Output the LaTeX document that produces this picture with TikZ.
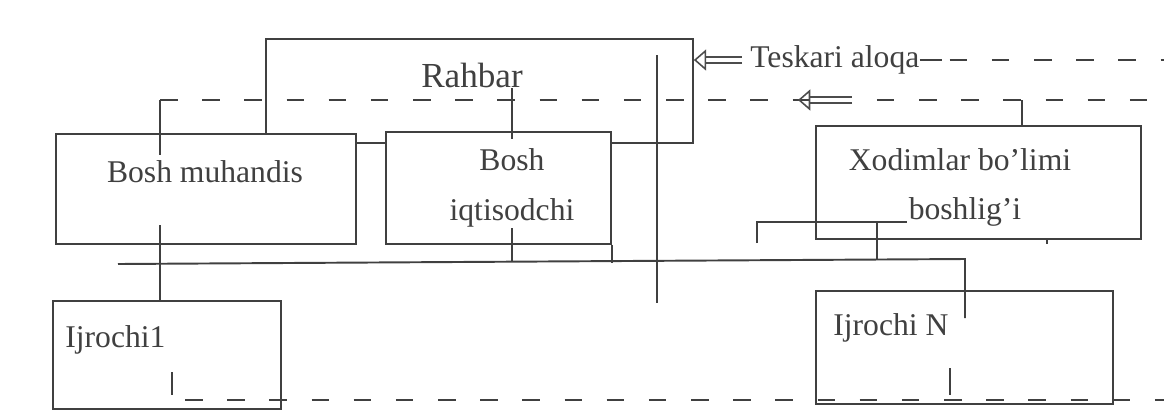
\documentclass[tikz,border=0pt]{standalone}
\usepackage{fontspec}
\setmainfont{Liberation Serif}
\usetikzlibrary{arrows.meta}
\tikzset{
  ln/.style={draw=black!75, line width=1.1pt},
  dsh/.style={ln, dash pattern=on 10pt off 14pt},
  box/.style={ln, fill=white, rectangle, inner sep=0pt, anchor=north west},
  txt/.style={font=\fontsize{18}{20}\selectfont, text=black!75, inner sep=0pt},
  holl/.style={draw=black!70, double=white, double distance=2.8pt, line width=0.9pt,
    -{Triangle[open, length=7pt, width=12pt]}}
}

\begin{document}
\begin{tikzpicture}[x=0.02cm, y=-0.02cm]
  \useasboundingbox (0,0) rectangle (1164,410);
  % rahbar and feedback lines
  \node[box, minimum width=8.54cm, minimum height=2.08cm] (rahbar) at (265,38) {};
  \node[txt, font=\fontsize{20}{22}\selectfont] (rahbart) at (472,75) {Rahbar};
  \node[txt, anchor=west] (teskari) at (750,60) {Teskari aloqa};
  \coordinate (tr) at (1164,60);
  \draw[ln] (teskari.east) -- ++(22,0);
  \draw[dsh] (teskari.east) ++(30,0) -- (tr);
  \coordinate (dl) at (160,100);
  \coordinate (dr) at (1164,100);
  \draw[dsh] (dl) -- (dr);
  \coordinate (a1) at (742,60);
  \draw[holl] (a1) -- (rahbar.east |- a1);
  \coordinate (a2s) at (852,100);
  \coordinate (a2e) at (798,100);
  \draw[holl] (a2s) -- (a2e);
  % managers
  \node[box, minimum width=6cm, minimum height=2.2cm] (muh) at (55,133) {};
  \node[txt] (muht) at (205,172) {Bosh muhandis};
  \node[box, minimum width=4.5cm, minimum height=2.24cm] (iqt) at (385,131) {};
  \node[txt] (iqt1) at (512,160) {Bosh};
  \node[txt] (iqt2) at (512,213) {iqtisodchi};
  \node[box, minimum width=6.5cm, minimum height=2.26cm] (xod) at (815,125) {};
  \node[txt] (xod1) at (960,160) {Xodimlar bo’limi};
  \node[txt] (xod2) at (965,212) {boshlig’i};
  % executors
  \node[box, minimum width=4.56cm, minimum height=2.16cm] (ij1) at (52,300) {};
  \node[txt, anchor=west] (ij1t) at (65,340) {Ijrochi1};
  \node[box, minimum width=5.94cm, minimum height=2.26cm] (ijn) at (815,290) {};
  \node[txt, anchor=west] (ijnt) at (833,328) {Ijrochi N};
  % bus and links
  \coordinate (busl) at (118,264);
  \coordinate (busr) at (965,259);
  \draw[ln] (busl) -- (busr) -- (busr |- ijn.north) -- ++(0,28);
  \draw[ln] (dl) -- (dl |- muh.north) -- ++(0,22);
  \coordinate (m1) at (160,225);
  \draw[ln] (m1) -- (m1 |- ij1.north);
  \coordinate (r1) at (512,88);
  \draw[ln] (r1) -- (r1 |- iqt.north) -- ++(0,8);
  \coordinate (q1) at (512,228);
  \draw[ln] (q1) -- (512,262);
  \draw[ln] (iqt.south east) -- ++(0,18);
  \coordinate (v1) at (657,55);
  \draw[ln] (v1) -- (657,303);
  \coordinate (x1) at (1022,100);
  \draw[ln] (x1) -- (x1 |- xod.north);
  \coordinate (b1) at (757,243);
  \draw[ln] (b1) -- (757,222) -- (907,222);
  \draw[ln] (877,222) -- (877,259);
  \draw[ln] (1047,238) -- (1047,244);
  % bottom feedback
  \coordinate (bl) at (185,400);
  \coordinate (br) at (1164,400);
  \draw[dsh] (bl) -- (br);
  \draw[ln] (172,372) -- (172,395);
  \draw[ln] (950,368) -- (950,395);
\end{tikzpicture}
\end{document}
